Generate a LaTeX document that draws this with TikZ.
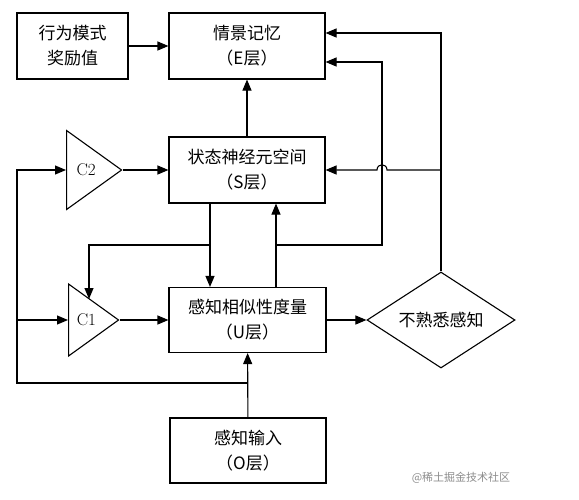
\documentclass[tikz,border=0pt]{standalone}
\usepackage{fontspec}
\newfontfamily\cjk{Noto Sans CJK SC}
\usetikzlibrary{shapes.geometric,calc,positioning,arrows.meta}
\begin{document}
\begin{tikzpicture}[x=1pt,y=-1pt,>={Triangle[length=11pt,width=9pt]},line width=1.1pt,
box/.style = {draw, rectangle, font=\cjk\fontsize{17}{25}\selectfont, align=center, inner sep=0pt},
amp/.style = {draw, isosceles triangle, isosceles triangle stretches, inner sep=0pt, font=\fontsize{17}{18}\selectfont},]
\useasboundingbox (0,0) rectangle (579,499);
\node (rew) at (72.5,46)[box,minimum width=111pt,minimum height=66pt] {行为模式\\奖励值};
\node (E) at (247,46)[box,minimum width=156pt,minimum height=66pt] {情景记忆\\（E层）};
\node (S) at (247,170)[box,minimum width=156pt,minimum height=66pt] {状态神经元空间\\（S层）};
\node (U) at (247.5,320)[box,minimum width=157pt,minimum height=65pt] {感知相似性度量\\（U层）};
\node (O) at (248,450.5)[box,minimum width=156pt,minimum height=65pt] {感知输入\\（O层）};
\node (D) at (441,320)[box,diamond,aspect=1.6,minimum width=148pt,minimum height=96pt] {不熟悉感知};
\node (C2) at (66,170)[amp,anchor=lower side,minimum width=79pt,minimum height=55pt] {C2};
\node (C1) at (68,320)[amp,anchor=lower side,minimum width=72pt,minimum height=50pt] {C1};
\node (wm) at (461,478)[font=\cjk\fontsize{11}{13}\selectfont,text=black!45] {@稀土掘金技术社区};
% junctions
\coordinate (Ein1) at ($(E.east)+(0,-13)$);
\coordinate (Ein2) at ($(E.east)+(0,16)$);
\coordinate (jl) at (210,245);
\coordinate (jr) at (276,245);
\coordinate (up) at (382,245);
\coordinate (lo) at (247,383);
\coordinate (lf) at (17,383);
\coordinate (c1in) at ($(C1.lower side)+(21,-21)$);
\draw[->] (rew) -- (E);
\draw[->] (S) -- (E);
\draw[->] (C2.apex) -- (S.west |- C2.apex);
\draw[->] (C1.apex) -- (U.west |- C1.apex);
\draw[->] (U) -- (D);
\draw[->] (O) -- (U);
\draw[->] (S.south -| jl) -- (U.north -| jl);
\draw[->] (jl) -| (c1in);
\draw[->] (U.north -| jr) -- (S.south -| jr);
\draw[->] (jr) -- (up) |- (Ein2);
\draw[->] (D.north) |- (Ein1);
\draw[->] (D.north |- S.east) -- ($(up |- S.east)+(5,0)$) .. controls +(0,-7) and +(0,-7) .. ($(up |- S.east)+(-5,0)$) -- (S.east);
\draw[->] (lo) -- (lf) |- (C2.lower side);
\draw[->] (lf |- C1.lower side) -- (C1.lower side);
\end{tikzpicture}
\end{document}
